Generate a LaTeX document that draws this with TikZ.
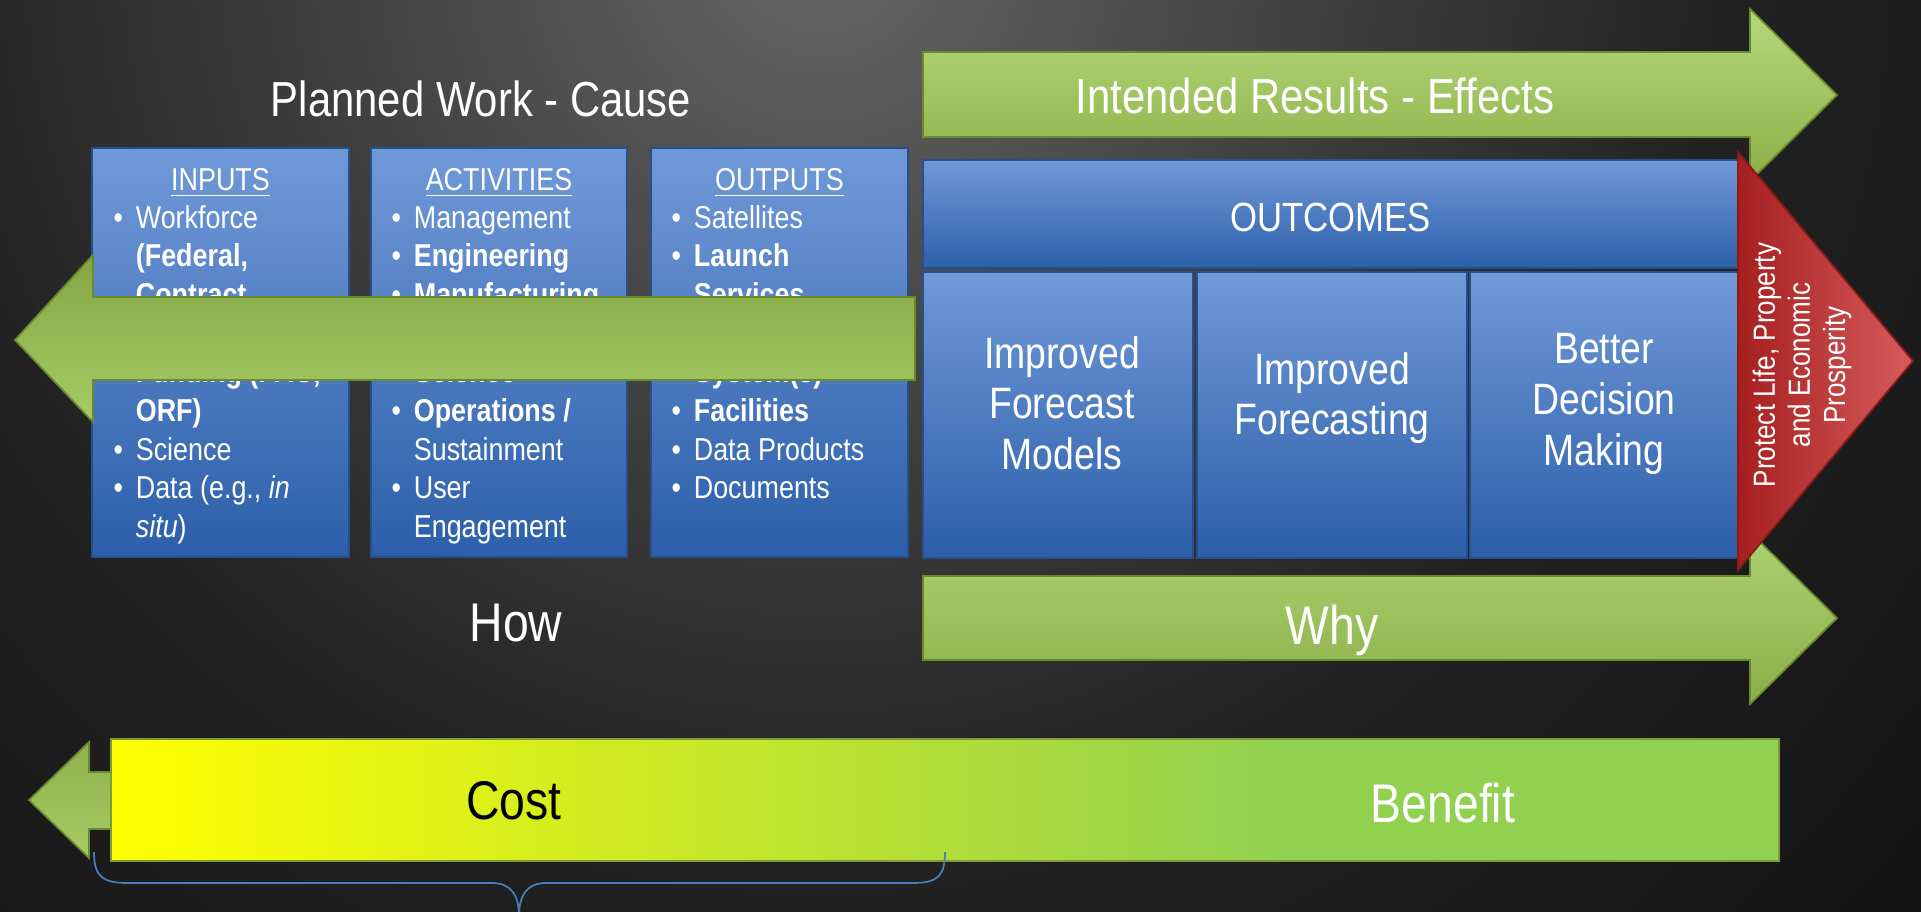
\documentclass[tikz,border=0pt]{standalone}
\usepackage{fontspec}
\setmainfont{Liberation Sans}[FakeStretch=0.85]
\usetikzlibrary{calc}

\definecolor{bgA}{HTML}{676767}
\definecolor{bgB}{HTML}{3C3C3C}
\definecolor{bgC}{HTML}{222222}
\definecolor{bgD}{HTML}{121212}
\definecolor{blocktop}{HTML}{7099D8}
\definecolor{blockbot}{HTML}{2C5FAA}
\definecolor{blockedge}{HTML}{284F8C}
\definecolor{causetop}{HTML}{82A642}
\definecolor{causebot}{HTML}{A7CC66}
\definecolor{causeedge}{HTML}{6A8A30}
\definecolor{effecttop}{HTML}{B6DA7A}
\definecolor{effectbot}{HTML}{8BAE48}
\definecolor{reddark}{HTML}{A61F1F}
\definecolor{redlight}{HTML}{D65C5C}
\definecolor{rededge}{HTML}{8A1A1A}
\definecolor{benefit}{HTML}{92D050}
\definecolor{costedge}{HTML}{7E9A3A}
\definecolor{bracecol}{HTML}{4A7EBB}

% the path's bounding box takes the middle 25bp--75bp of a shading
\pgfdeclareradialshading{bgglow}{\pgfpoint{0bp}{0bp}}{color(0bp)=(bgA); color(9bp)=(bgB); color(15bp)=(bgC); color(25bp)=(bgD); color(50bp)=(bgD)}
\pgfdeclarehorizontalshading{costbar}{100bp}{color(0bp)=(yellow); color(25bp)=(yellow); color(60bp)=(benefit); color(100bp)=(benefit)}

\tikzstyle{block}=[rectangle,top color=blocktop,bottom color=blockbot,draw=blockedge,line width=0.6pt,inner sep=0]
\tikzstyle{blockhead}=[anchor=base,text=white,font=\fontsize{9}{11}\selectfont,inner sep=0]
\tikzstyle{blocktxt}=[anchor=base west,text=white,font=\fontsize{9}{11}\selectfont,inner sep=0]
\tikzstyle{outtxt}=[align=center,text=white,font=\fontsize{12.5}{14.4}\selectfont,inner sep=0]
\tikzstyle{title}=[text=white,font=\fontsize{14}{16}\selectfont,inner sep=0]
\tikzstyle{bigtxt}=[anchor=base,font=\fontsize{15.5}{18}\selectfont,inner sep=0]
\tikzstyle{causearrow}=[top color=causetop,bottom color=causebot,draw=causeedge,line width=0.5pt]
\tikzstyle{effectarrow}=[top color=effecttop,bottom color=effectbot,draw=causeedge,line width=0.5pt]

\newcommand\bit{\makebox[6.3pt][l]{\textbullet}}
\newcommand\bic{\hspace*{6.3pt}}

\begin{document}
\begin{tikzpicture}[x=0.01cm,y=-0.01cm]
	\def \ytop {228};
	\def \lsp {38.7};
	\useasboundingbox (0,0) rectangle (1921,911);

	% background
	\begin{scope}
		\clip (0,0) rectangle (1921,911);
		\shade[shading=bgglow] (820,-60) circle (15cm);
	\end{scope}

	\node[title] (planned) at (481,99) {Planned Work - Cause};

	% the three cause blocks
	\foreach \n/\t/\x in {inputs/INPUTS/220.5, activities/ACTIVITIES/499, outputs/OUTPUTS/779.5} {
		\node[block, minimum width=2.56cm, minimum height=4.09cm] (\n) at (\x,352.5) {};
		\node[blockhead] (\n-head) at (\x,190) {\underline{\t}};
	};

	\foreach \k/\t in {1/{\bit Workforce}, 2/{\bic\textbf{(Federal,}}, 3/{\bic\textbf{Contract}},
		5/{\bit\textbf{Funding (PAC,}}, 6/{\bic\textbf{ORF)}}, 7/{\bit Science},
		8/{\bit Data (e.g., \textit{in}}, 9/{\bic\textit{situ})}} {
		\node[blocktxt] (inputs-\k) at (113,{\ytop+\lsp*(\k-1)}) {\t};
	};
	\foreach \k/\t in {1/{\bit Management}, 2/{\bit\textbf{Engineering}}, 3/{\bit\textbf{Manufacturing}},
		5/{\bic\textbf{Science}}, 6/{\bit\textbf{Operations /}}, 7/{\bic Sustainment},
		8/{\bit User}, 9/{\bic Engagement}} {
		\node[blocktxt] (activities-\k) at (391,{\ytop+\lsp*(\k-1)}) {\t};
	};
	\foreach \k/\t in {1/{\bit Satellites}, 2/{\bit\textbf{Launch}}, 3/{\bic\textbf{Services}},
		5/{\bic\textbf{System(s)}}, 6/{\bit\textbf{Facilities}}, 7/{\bit Data Products},
		8/{\bit Documents}} {
		\node[blocktxt] (outputs-\k) at (671,{\ytop+\lsp*(\k-1)}) {\t};
	};

	% cause arrow over the blocks
	\path[causearrow] (15,340) -- (93,255) -- (93,297) -- (915,297) -- (915,380) -- (93,380) -- (93,422) -- cycle;

	\node[bigtxt, text=white] (how) at (516,641) {How};

	% effect arrows
	\path[effectarrow] (923,52) -- (1750,52) -- (1750,9) -- (1837,95) -- (1750,181) -- (1750,137) -- (923,137) -- cycle;
	\node[title] (intended) at (1315,96) {Intended Results - Effects};
	\path[effectarrow, top color=effecttop!80!effectbot] (923,576) -- (1750,576) -- (1750,532) -- (1837,618) -- (1750,704) -- (1750,660) -- (923,660) -- cycle;
	\node[bigtxt, text=white] (why) at (1332,644) {Why};

	% outcomes
	\node[block, minimum width=8.15cm, minimum height=1.08cm] (outcomes) at (1330.5,214) {};
	\node[blockhead, font=\fontsize{11.6}{14}\selectfont] (outcomes-head) at (1330.5,231) {OUTCOMES};
	\foreach \n/\x/\w in {oc1/1058/2.70, oc2/1332/2.70, oc3/1604/2.68} {
		\node[block, minimum width=\w cm, minimum height=2.86cm] (\n) at (\x,415) {};
	};
	\node[outtxt] (oc1-txt) at (1062,403) {Improved\\Forecast\\Models};
	\node[outtxt] (oc2-txt) at (1332,398) {Improved\\Forecasting};
	\node[outtxt] (oc3-txt) at (1604,404) {Better\\Decision\\Making};

	% goal triangle
	\shade[left color=reddark, right color=redlight, draw=rededge, line width=0.5pt] (1738,152) -- (1913,361) -- (1738,570) -- cycle;
	\node[rotate=90, align=center, text=white, font=\fontsize{8.7}{10}\selectfont, inner sep=0] (goal) at (1802,365) {Protect Life, Property\\and Economic\\Prosperity};

	% cost / benefit
	\path[causearrow, top color=causetop!70!causebot] (29,800) -- (89,742) -- (89,772) -- (115,772) -- (115,829) -- (89,829) -- (89,858) -- cycle;
	\shade[shading=costbar, draw=costedge, line width=0.5pt] (111,739) rectangle (1779,861);
	\node[bigtxt, text=black] (cost) at (514,819) {Cost};
	\node[bigtxt, text=white] (benefit) at (1443,822) {Benefit};

	\coordinate (brace-l) at (94,852);
	\coordinate (brace-m) at (519,916);
	\coordinate (brace-r) at (945,852);
	\draw[bracecol, line width=0.5pt] (brace-l) .. controls (94,876) and (102,883) .. (128,883) -- (492,883)
		.. controls (510,883) and (519,894) .. (brace-m)
		.. controls (519,894) and (528,883) .. (546,883) -- (912,883)
		.. controls (938,883) and (945,876) .. (brace-r);
\end{tikzpicture}
\end{document}
